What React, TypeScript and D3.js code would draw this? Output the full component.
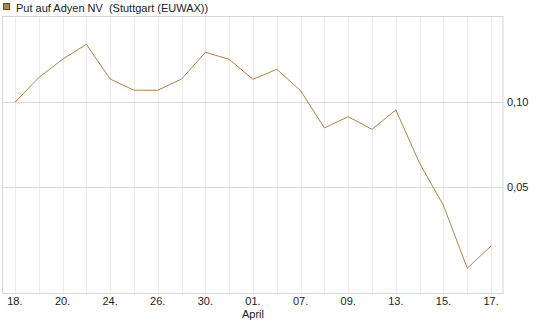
import React from "react";
import * as d3 from "d3";

const categories = ["18.", "19.", "20.", "23.", "24.", "25.", "26.", "27.", "30.", "31.", "01.", "02.", "07.", "08.", "09.", "10.", "13.", "14.", "15.", "16.", "17."];
const labelIdx = [0, 2, 4, 6, 8, 10, 12, 14, 16, 18, 20];
const values = [0.100, 0.1145, 0.1253, 0.1341, 0.1137, 0.1071, 0.1071, 0.1137, 0.1294, 0.1253, 0.1135, 0.1194, 0.1068, 0.0849, 0.0915, 0.0841, 0.0955, 0.0641, 0.0393, 0.0024, 0.0155];
const yTicks = [0.05, 0.10];
const seriesName = "Put auf Adyen NV  (Stuttgart (EUWAX))";
const monthLabel = "April";
const monthIdx = 10;

const W = 545, H = 327;
const L = 3, R = 503, T = 16, B = 293;
const COLOR = "#B5823D";

export default function App() {
  const x = d3.scaleBand<number>().domain(d3.range(categories.length)).range([L, R]).padding(0);
  const cx = (i: number) => (x(i) as number) + x.bandwidth() / 2;
  // 0.10 -> 102.3, 0.05 -> 187.3
  const y = d3.scaleLinear().domain([0.05, 0.10]).range([187.3, 102.3]);
  const line = d3.line<number>().x((_, i) => cx(i)).y((d) => y(d));
  const font = "'Liberation Sans', Arial, sans-serif";
  return (
    <svg width={W} height={H} style={{ position: "absolute", left: 0, top: 0 }} fontFamily={font}>
      <rect x={0} y={0} width={W} height={H} fill="#fff" />
      {categories.map((_, i) => (
        <line key={i} x1={Math.round(cx(i)) + 0.5} x2={Math.round(cx(i)) + 0.5} y1={T} y2={B} stroke="#ececec" strokeWidth={1} />
      ))}
      {yTicks.map((t) => (
        <line key={t} x1={L} x2={R} y1={Math.round(y(t)) + 0.5} y2={Math.round(y(t)) + 0.5} stroke="#dcdcdc" strokeWidth={1} />
      ))}
      <rect x={L - 0.5} y={T + 0.5} width={R - L + 0.5} height={B - T} fill="none" stroke="#d6d6d6" strokeWidth={1} />
      <path d={line(values) || ""} fill="none" stroke={COLOR} strokeWidth={1} />
      {yTicks.map((t) => (
        <text key={t} x={507} y={y(t) + 4} fontSize={11} fill="#222">
          {d3.format(".2f")(t).replace(".", ",")}
        </text>
      ))}
      {labelIdx.map((i) => (
        <text key={i} x={cx(i)} y={305} fontSize={11} textAnchor="middle" fill="#222">
          {categories[i]}
        </text>
      ))}
      <text x={cx(monthIdx)} y={318} fontSize={11} textAnchor="middle" fill="#222">{monthLabel}</text>
      <rect x={3.5} y={3.5} width={6} height={6} fill={COLOR} stroke="#6b4a1f" strokeWidth={1} />
      <text x={16} y={12} fontSize={11} fill="#222" style={{ whiteSpace: "pre" }}>{seriesName}</text>
    </svg>
  );
}
